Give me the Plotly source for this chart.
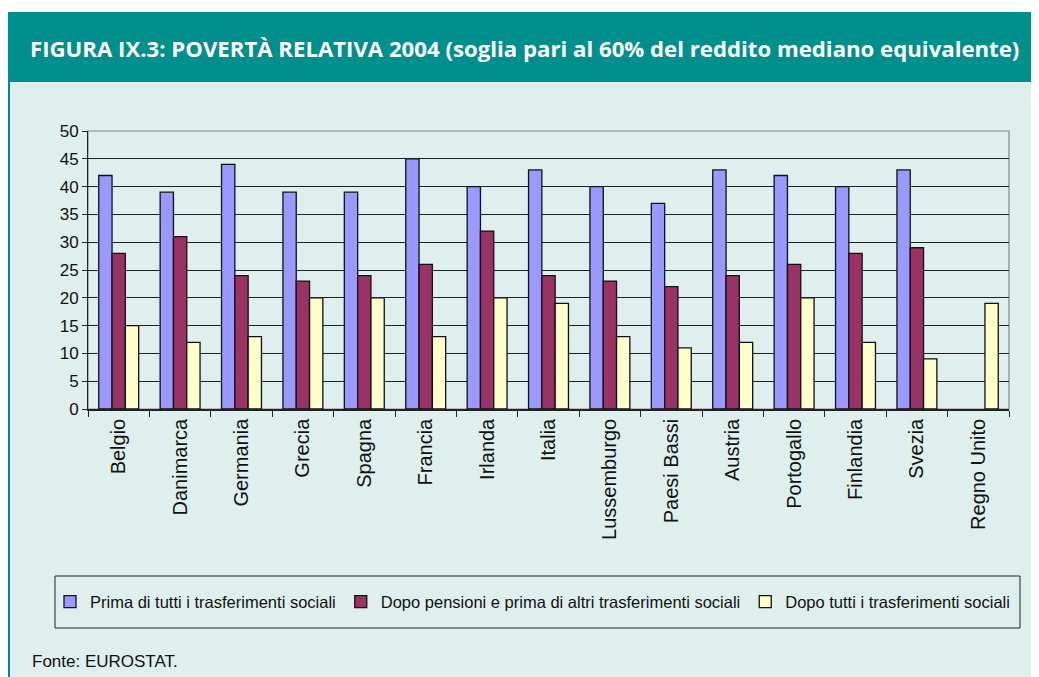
import plotly.graph_objects as go

# Povertà relativa 2004
paesi = ["Belgio", "Danimarca", "Germania", "Grecia", "Spagna", "Francia", "Irlanda",
         "Italia", "Lussemburgo", "Paesi Bassi", "Austria", "Portogallo", "Finlandia",
         "Svezia", "Regno Unito"]
prima_tutti = [42, 39, 44, 39, 39, 45, 40, 43, 40, 37, 43, 42, 40, 43, None]
dopo_pensioni = [28, 31, 24, 23, 24, 26, 32, 24, 23, 22, 24, 26, 28, 29, None]
dopo_tutti = [15, 12, 13, 20, 20, 13, 20, 19, 13, 11, 12, 20, 12, 9, 19]

serie = [
    ("Prima di tutti i trasferimenti sociali", prima_tutti, "#9999FF"),
    ("Dopo pensioni e prima di altri trasferimenti sociali", dopo_pensioni, "#993366"),
    ("Dopo tutti i trasferimenti sociali", dopo_tutti, "#FFFFCC"),
]

TEAL = "#008f8c"
PANEL = "#dfefee"

# la pagina ha un margine di 8px: coordinate di riferimento spostate
OFF = 8
W, H = 1039, 677
# area del grafico (coordinate del riferimento): x 88..1009, y 131..409
L, T = 88 - OFF, 131 - OFF
PW, PH = 1009 - 88, 409 - 131
R = W - L - PW
B = H - T - PH


def px(x):
    return (x - OFF - L) / PW


def py(y):
    return (T + PH - (y - OFF)) / PH


fig = go.Figure()
for nome, valori, colore in serie:
    fig.add_trace(go.Bar(x=paesi, y=valori, name=nome,
                         marker=dict(color=colore, line=dict(color="#111", width=1.3))))

shapes = [
    # fascia del titolo
    dict(type="rect", xref="paper", yref="paper", x0=px(0), x1=px(W + 20),
         y0=py(82), y1=py(12), fillcolor=TEAL, line=dict(width=0), layer="below"),
    # bianco sopra il titolo
    dict(type="rect", xref="paper", yref="paper", x0=px(0), x1=px(W + 20),
         y0=py(12), y1=py(0), fillcolor="white", line=dict(width=0), layer="below"),
    # bordo sinistro del pannello
    dict(type="line", xref="paper", yref="paper", x0=px(9), x1=px(9),
         y0=py(H + 20), y1=py(82), line=dict(color=TEAL, width=2)),
    # riquadro legenda
    dict(type="rect", xref="paper", yref="paper", x0=px(55), x1=px(1020),
         y0=py(628), y1=py(576), line=dict(color="#222", width=1)),
]

fig.update_layout(
    width=W, height=H,
    margin=dict(l=L, r=R, t=T, b=B),
    paper_bgcolor=PANEL, plot_bgcolor=PANEL,
    font=dict(family="Arial, Liberation Sans, sans-serif", size=17, color="#111"),
    barmode="group", bargap=0.35, bargroupgap=0,
    shapes=shapes,
    showlegend=True,
    legend=dict(orientation="h", x=px(50), y=py(602), xanchor="left", yanchor="middle",
                xref="paper", yref="paper",
                font=dict(size=16.5, color="#111"), bgcolor="rgba(0,0,0,0)",
                itemwidth=30, traceorder="normal"),
    annotations=[
        dict(text="<b>FIGURA IX.3: POVERTÀ RELATIVA 2004 (soglia pari al 60% del reddito mediano equivalente)</b>",
             xref="paper", yref="paper", x=px(524), y=py(48), showarrow=False,
             font=dict(family="Open Sans, sans-serif", size=22.2, color="white"),
             xanchor="center", yanchor="middle"),
        dict(text="Fonte: EUROSTAT.", xref="paper", yref="paper", x=px(30), y=py(661),
             showarrow=False, xanchor="left", yanchor="middle",
             font=dict(size=17, color="#111")),
    ],
)

fig.update_yaxes(range=[0, 50], dtick=5, showgrid=True, gridcolor="#222", gridwidth=1,
                 showline=True, linecolor="#222", linewidth=1, ticks="outside",
                 ticklen=5, tickcolor="#222", zeroline=False, fixedrange=True,
                 tickfont=dict(size=17))
fig.update_xaxes(tickangle=-90, showline=True, linecolor="#222", linewidth=1.5,
                 ticks="outside", tickson="boundaries", ticklen=6, tickcolor="#222",
                 showgrid=False, fixedrange=True, tickfont=dict(size=20))

# bordo dell'area del grafico in grigio
fig.add_shape(type="rect", xref="paper", yref="paper", x0=0, x1=1, y0=0, y1=1,
              line=dict(color="#888", width=1.2), layer="below")

fig.write_html("out.html")
